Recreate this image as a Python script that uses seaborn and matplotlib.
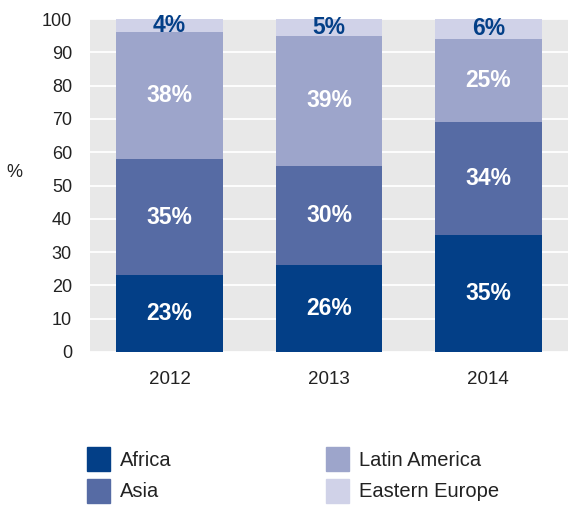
import numpy as np
import matplotlib
matplotlib.use('Agg')
import matplotlib.pyplot as plt
import seaborn as sns
from matplotlib.patches import Patch

# dados do grafico
anos = ['2012', '2013', '2014']
regioes = ['Africa', 'Asia', 'Latin America', 'Eastern Europe']
africa = [23, 26, 35]
asia = [35, 30, 34]
latin_america = [38, 39, 25]
eastern_europe = [4, 5, 6]

cores = ['#033f87', '#566ba4', '#9da5cb', '#d0d2e8']
cores_texto = ['white', 'white', 'white', '#033f87']

sns.set_style('darkgrid', {'axes.facecolor': '#e8e8e8', 'grid.color': 'white'})
plt.rcParams['font.family'] = ['Liberation Sans', 'DejaVu Sans']

fig = plt.figure(figsize=(5.68, 5.05), dpi=100)
ax = fig.add_axes([90 / 568, 1 - 352 / 505, 1 - 90 / 568, (352 - 19) / 505])

series = [africa, asia, latin_america, eastern_europe]
base = np.zeros(len(anos))
for vals, cor, ctxt in zip(series, cores, cores_texto):
    sns.barplot(x=anos, y=vals, bottom=base, color=cor, width=0.67,
                saturation=1, linewidth=0, edgecolor='none', ax=ax, zorder=2)
    cont = ax.containers[-1]
    for b in cont:
        b.set_clip_on(False)
    ax.bar_label(cont, labels=[f'{v}%' for v in vals], label_type='center',
                 color=ctxt, fontsize=16.5, fontweight='bold')
    base = base + np.array(vals)

ax.set_xlim(-0.5, 2.5)
ax.set_ylim(0, 100)
ax.set_yticks(range(0, 101, 10))
ax.grid(axis='x', visible=False)
ax.grid(axis='y', color='white', linewidth=1.3)
ax.set_axisbelow(True)
for s in ax.spines.values():
    s.set_visible(False)
ax.tick_params(axis='y', length=0, pad=13, labelsize=13, labelcolor='#222222')
ax.tick_params(axis='x', length=0, pad=14, labelsize=13.5, labelcolor='#222222')
ax.set_xlabel('')
ax.set_ylabel('')

fig.text(14 / 568, 1 - 172 / 505, '%', fontsize=13, color='#222222',
         ha='center', va='center')

# legenda em duas colunas
kw = dict(frameon=False, fontsize=14.5, handlelength=1.14, handleheight=1.44,
          handletextpad=0.5, labelspacing=0.4, borderpad=0, borderaxespad=0,
          loc='upper left', labelcolor='#222222')
h1 = [Patch(color=cores[0]), Patch(color=cores[1])]
h2 = [Patch(color=cores[2]), Patch(color=cores[3])]
fig.legend(h1, regioes[:2], bbox_to_anchor=(87 / 568, 1 - 447 / 505), **kw)
fig.legend(h2, regioes[2:], bbox_to_anchor=(326 / 568, 1 - 447 / 505), **kw)

plt.savefig('out.png', dpi=100)
plt.close()
